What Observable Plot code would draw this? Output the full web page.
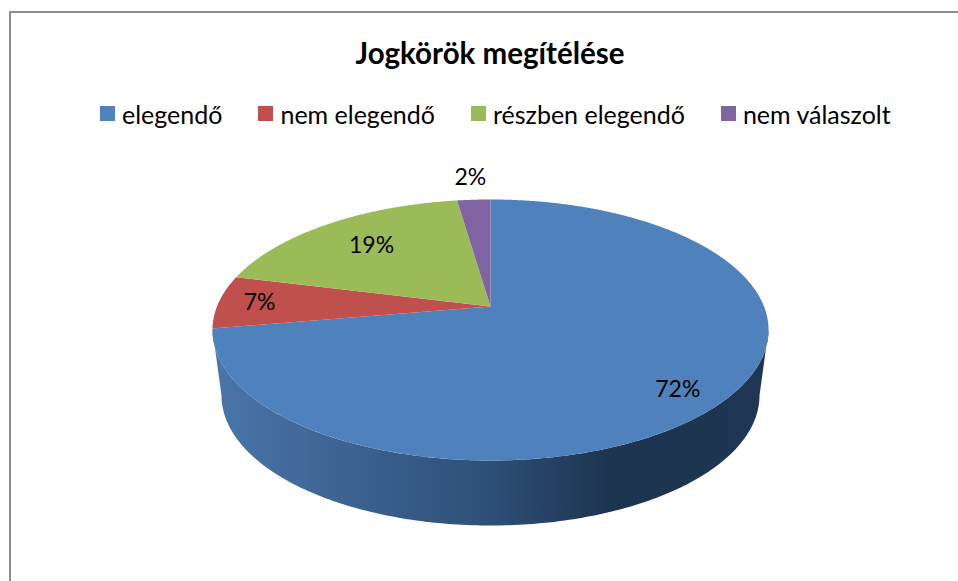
<!DOCTYPE html>
<html>
<head>
<meta charset="utf-8">
<script src="https://cdn.jsdelivr.net/npm/d3@7"></script>
<script src="https://cdn.jsdelivr.net/npm/@observablehq/plot@0.6"></script>
<style>
html,body{margin:0;padding:0;background:#fff;overflow:hidden;}
body{width:958px;height:581px;position:relative;font-family:Lato,"Open Sans",sans-serif;}
#frame{position:absolute;left:9px;top:11px;right:0;bottom:0;border-top:2px solid #8c8c8c;border-left:2px solid #8c8c8c;}
#title{position:absolute;left:0;width:980px;top:34px;text-align:center;font-size:29.5px;font-weight:700;line-height:38px;color:#000;padding-left:0;box-sizing:border-box;}
#legend{position:absolute;left:100px;top:97px;}
#chart{position:absolute;left:0;top:140px;}
.lg-swatches{margin:0!important;min-height:33px!important;font-size:25px!important;font-family:Lato,"Open Sans",sans-serif!important;color:#000;white-space:nowrap;flex-wrap:nowrap!important;}
.lg-swatch{margin-right:36px!important;}
.lg-swatch svg{margin-right:7px!important;}
</style>
</head>
<body>
<div id="frame"></div>
<div id="title"></div>
<div id="legend"></div>
<div id="chart"></div>
<script>
const titleText = "Jogkörök megítélése";
const categories = ["elegendő", "nem elegendő", "részben elegendő", "nem válaszolt"];
const shares = [72.3, 6.6, 18.8, 2.3];
const labels = ["72%", "7%", "19%", "2%"];
const colors = ["#4f81bd", "#c0504d", "#9bbb59", "#8064a2"];
const labelReach = [0.85, 0.85, 0.71, 1.25];
const labelTurn = [1.05, 0, 0, 0];

// projected 3D disc
const W = 958, H = 581, top0 = 140;
const cx = 490, cy = 306, A = 126.26, B = 273.5, p = 0.18;
function project(pct, r = 1) {
  const t = pct / 100 * 2 * Math.PI;
  const u = r * Math.sin(t), v = r * Math.cos(t);
  const k = 1 + p * v;
  return {x: cx + B * u / k, y: cy - A * v / k};
}

// slice outlines and label anchors from the shares
let start = 0;
const slicePts = [], labelRows = [];
categories.forEach((c, i) => {
  const end = start + shares[i];
  slicePts.push({category: c, ...project(0, 0)});
  for (let s = start; s < end; s += 0.1) slicePts.push({category: c, ...project(s)});
  slicePts.push({category: c, ...project(end)});
  labelRows.push({label: labels[i], ...project((start + end) / 2 + labelTurn[i], labelReach[i])});
  start = end;
});

// side wall: front half of the upper rim, then front half of the lower rim
const wallPts = [];
const ex = 278, ey = 130.5, ecy = 329.5, lx = 269, ly = 130, lcy = 395;
for (let a = 0; a <= 180; a += 1) {
  const r = a * Math.PI / 180;
  wallPts.push({x: cx + ex * Math.cos(r), y: ecy + ey * Math.sin(r)});
}
for (let a = 180; a >= 0; a -= 1) {
  const r = a * Math.PI / 180;
  wallPts.push({x: cx + lx * Math.cos(r), y: lcy + ly * Math.sin(r)});
}

const wallGradient = () => {
  const ns = "http://www.w3.org/2000/svg";
  const defs = document.createElementNS(ns, "defs");
  const g = document.createElementNS(ns, "linearGradient");
  g.setAttribute("id", "wall");
  g.setAttribute("x1", "0"); g.setAttribute("x2", "1");
  g.setAttribute("y1", "0"); g.setAttribute("y2", "0");
  [[0, "#4a76ab"], [0.12, "#436c9d"], [0.5, "#2e4f77"], [0.72, "#1d3450"], [1, "#1f3654"]].forEach(([o, c]) => {
    const s = document.createElementNS(ns, "stop");
    s.setAttribute("offset", o); s.setAttribute("stop-color", c);
    g.appendChild(s);
  });
  defs.appendChild(g);
  return defs;
};

const chart = Plot.plot({
  width: W, height: H - top0,
  margin: 0,
  style: {background: "transparent", overflow: "visible"},
  x: {domain: [0, W], range: [0, W], axis: null},
  y: {domain: [top0, H], range: [0, H - top0], axis: null},
  color: {domain: categories, range: colors},
  marks: [
    wallGradient,
    Plot.line(wallPts, {x: "x", y: "y", fill: "url(#wall)", stroke: "none", curve: "linear"}),
    Plot.line(slicePts, {x: "x", y: "y", z: "category", fill: "category", stroke: "none", curve: "linear"}),
    Plot.text(labelRows, {x: "x", y: "y", text: "label", fontSize: 23, fontFamily: "Lato", fill: "#000"})
  ]
});
document.getElementById("chart").appendChild(chart);
document.getElementById("title").textContent = titleText;
document.getElementById("legend").appendChild(
  Plot.legend({color: {domain: categories, range: colors}, legend: "swatches", swatchSize: 15, className: "lg"})
);
</script>
</body>
</html>
